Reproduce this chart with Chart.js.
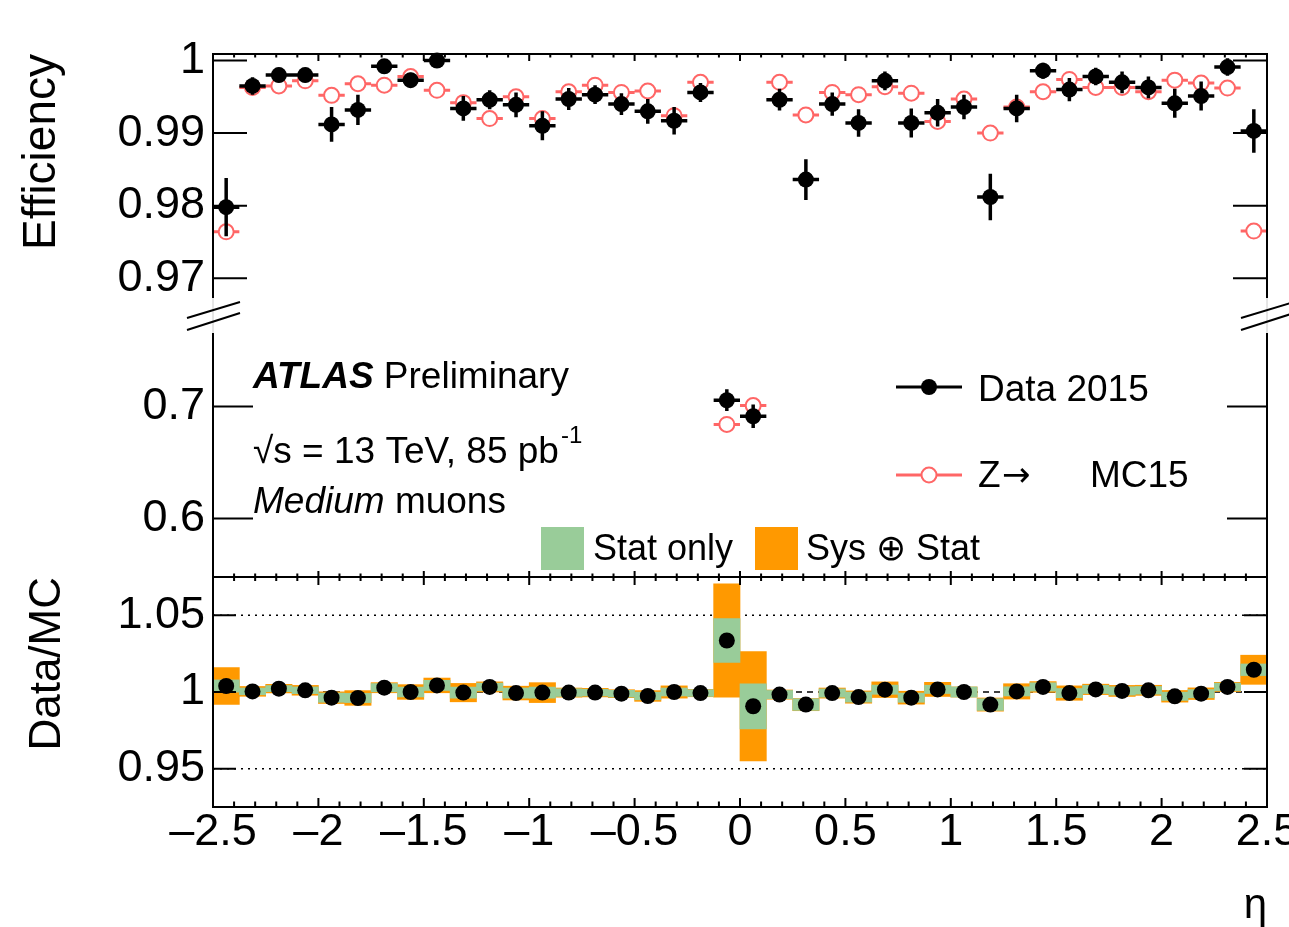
<!DOCTYPE html>
<html>
<head>
<meta charset="utf-8">
<script src="https://cdn.jsdelivr.net/npm/chart.js@4.4.0/dist/chart.umd.min.js"></script>
<style>
  body { margin: 0; background: #fff; }
  #wrap { position: relative; width: 1289px; height: 927px; overflow: hidden; background: #fff; }
  #wrap canvas { position: absolute; left: 0; }
</style>
</head>
<body>
<div id="wrap">
  <canvas id="mid-chart" width="1289" height="265" style="top:316px"></canvas>
  <canvas id="ratio-chart" width="1289" height="357" style="top:570px"></canvas>
  <canvas id="top-chart" width="1289" height="345" style="top:0px"></canvas>
</div>
<script>
// values (muon efficiency vs eta, 40 bins)
const etaBins = [-2.4375, -2.3125, -2.1875, -2.0625, -1.9375, -1.8125, -1.6875, -1.5625, -1.4375, -1.3125,
                 -1.1875, -1.0625, -0.9375, -0.8125, -0.6875, -0.5625, -0.4375, -0.3125, -0.1875, -0.0625,
                  0.0625,  0.1875,  0.3125,  0.4375,  0.5625,  0.6875,  0.8125,  0.9375,  1.0625,  1.1875,
                  1.3125,  1.4375,  1.5625,  1.6875,  1.8125,  1.9375,  2.0625,  2.1875,  2.3125,  2.4375];
const binHalfWidth = 0.0625;

const dataEff = [0.9798, 0.9965, 0.9980, 0.9980, 0.9912, 0.9932, 0.9992, 0.9973, 1.0000, 0.9934,
                 0.9946, 0.9939, 0.9910, 0.9947, 0.9953, 0.9940, 0.9930, 0.9917, 0.9956, 0.7056,
                 0.6913, 0.9946, 0.9836, 0.9940, 0.9914, 0.9972, 0.9914, 0.9928, 0.9936, 0.9812,
                 0.9934, 0.9986, 0.9960, 0.9978, 0.9970, 0.9963, 0.9941, 0.9951, 0.9991, 0.9903];
const dataErr = [0.0040, 0.0012, 0.0010, 0.0010, 0.0024, 0.0021, 0.0010, 0.0010, 0.0008, 0.0017,
                 0.0013, 0.0017, 0.0020, 0.0015, 0.0013, 0.0015, 0.0017, 0.0019, 0.0013, 0.0097,
                 0.0104, 0.0015, 0.0028, 0.0016, 0.0019, 0.0013, 0.0020, 0.0019, 0.0017, 0.0032,
                 0.0019, 0.0011, 0.0016, 0.0012, 0.0015, 0.0015, 0.0020, 0.0020, 0.0012, 0.0030];
const mcEff = [0.9764, 0.9963, 0.9965, 0.9972, 0.9952, 0.9968, 0.9966, 0.9978, 0.9959, 0.9942,
               0.9920, 0.9950, 0.9920, 0.9957, 0.9966, 0.9956, 0.9958, 0.9924, 0.9970, 0.6840,
               0.7009, 0.9970, 0.9925, 0.9956, 0.9953, 0.9964, 0.9955, 0.9916, 0.9947, 0.9900,
               0.9936, 0.9957, 0.9974, 0.9963, 0.9963, 0.9957, 0.9973, 0.9969, 0.9962, 0.9765];

const ratio = [1.0039, 1.0004, 1.0022, 1.0011, 0.9963, 0.9961, 1.0028, 1.0000, 1.0043, 0.9996,
               1.0033, 0.9993, 0.9996, 0.9996, 0.9996, 0.9989, 0.9974, 1.0000, 0.9993, 1.0336,
               0.9907, 0.9983, 0.9918, 0.9993, 0.9967, 1.0015, 0.9963, 1.0017, 1.0000, 0.9918,
               1.0004, 1.0033, 0.9993, 1.0017, 1.0007, 1.0011, 0.9972, 0.9989, 1.0033, 1.0145];
const ratioStat = [0.0040, 0.0022, 0.0020, 0.0022, 0.0030, 0.0030, 0.0027, 0.0032, 0.0033, 0.0036,
                   0.0025, 0.0033, 0.0036, 0.0025, 0.0022, 0.0022, 0.0025, 0.0026, 0.0022, 0.0143,
                   0.0147, 0.0027, 0.0038, 0.0027, 0.0033, 0.0030, 0.0030, 0.0027, 0.0033, 0.0038,
                   0.0030, 0.0027, 0.0030, 0.0027, 0.0027, 0.0025, 0.0027, 0.0027, 0.0025, 0.0038];
const ratioTotal = [0.0120, 0.0032, 0.0028, 0.0032, 0.0038, 0.0048, 0.0033, 0.0048, 0.0048, 0.0060,
                    0.0033, 0.0045, 0.0065, 0.0030, 0.0028, 0.0026, 0.0035, 0.0040, 0.0024, 0.0370,
                    0.0356, 0.0030, 0.0040, 0.0033, 0.0040, 0.0051, 0.0042, 0.0046, 0.0033, 0.0043,
                    0.0050, 0.0035, 0.0047, 0.0034, 0.0036, 0.0033, 0.0038, 0.0038, 0.0030, 0.0095];

const breakAt = 0.9; // points above go in the upper part of the broken axis
const effTicksHigh = [1, 0.99, 0.98, 0.97];
const effLabelsHigh = ['1', '0.99', '0.98', '0.97'];
const effTicksLow = [0.7, 0.6];
const effLabelsLow = ['0.7', '0.6'];
const ratioTicks = [1.05, 1, 0.95];
const ratioLabels = ['1.05', '1', '0.95'];
const etaTicks = [-2.5, -2, -1.5, -1, -0.5, 0, 0.5, 1, 1.5, 2, 2.5];
const etaLabels = ['\u20132.5', '\u20132', '\u20131.5', '\u20131', '\u20130.5', '0', '0.5', '1', '1.5', '2', '2.5'];

const FONT = '"Liberation Sans", Arial, Helvetica, sans-serif';
const MC_RED = '#ff6666';
const STAT_GREEN = '#99cc99';
const SYS_ORANGE = '#ff9900';

Chart.defaults.font.family = FONT;
Chart.defaults.color = '#000';

// ROOT-like frame: ticks point inwards, on all four sides
const frameTicks = {
  id: 'frameTicks',
  afterDatasetsDraw(chart, args, o) {
    const { ctx, chartArea: a, scales: { x, y } } = chart;
    ctx.save();
    ctx.strokeStyle = '#000';
    ctx.lineWidth = 2;
    ctx.beginPath();
    ctx.moveTo(a.left, a.top); ctx.lineTo(a.left, a.bottom);
    ctx.moveTo(a.right, a.top); ctx.lineTo(a.right, a.bottom);
    if (o.top) { ctx.moveTo(a.left - 1, a.top); ctx.lineTo(a.right + 1, a.top); }
    if (o.bottom) { ctx.moveTo(a.left - 1, a.bottom); ctx.lineTo(a.right + 1, a.bottom); }
    for (let k = -25; k <= 25; k++) {
      const px = x.getPixelForValue(k / 10);
      const major = k % 5 === 0;
      if (o.topTicks) {
        ctx.moveTo(px, a.top); ctx.lineTo(px, a.top + (major ? o.topTicks[0] : o.topTicks[1]));
      }
      if (o.bottomTicks) {
        ctx.moveTo(px, a.bottom); ctx.lineTo(px, a.bottom - (major ? o.bottomTicks[0] : o.bottomTicks[1]));
      }
    }
    o.yTicks.forEach(v => {
      const py = y.getPixelForValue(v);
      ctx.moveTo(a.left, py); ctx.lineTo(a.left + o.yLen, py);
      ctx.moveTo(a.right, py); ctx.lineTo(a.right - o.yLen, py);
    });
    ctx.stroke();
    ctx.restore();
  }
};

// x error = bin width, y error from the point's "e" value; drawn under the markers
const errorBars = {
  id: 'errorBars',
  beforeDatasetDraw(chart, args) {
    const ds = chart.data.datasets[args.index];
    if (!ds.errColor) return;
    const { ctx, scales: { x, y } } = chart;
    ctx.save();
    ctx.strokeStyle = ds.errColor;
    ctx.lineWidth = ds.errWidth;
    ctx.beginPath();
    ds.data.forEach(p => {
      const px = x.getPixelForValue(p.x);
      const py = y.getPixelForValue(p.y);
      ctx.moveTo(x.getPixelForValue(p.x - binHalfWidth), py);
      ctx.lineTo(x.getPixelForValue(p.x + binHalfWidth), py);
      if (p.e) {
        ctx.moveTo(px, y.getPixelForValue(p.y + p.e));
        ctx.lineTo(px, y.getPixelForValue(p.y - p.e));
      }
    });
    ctx.stroke();
    ctx.restore();
  }
};

// the // marks of the broken y axis
const axisBreak = {
  id: 'axisBreak',
  afterDraw(chart) {
    const { ctx, chartArea: a } = chart;
    const y0 = a.bottom;
    [a.left, a.right].forEach(x0 => {
      ctx.save();
      ctx.fillStyle = '#fff';
      ctx.fillRect(x0 - 3, y0 - 18, 6, 35);
      ctx.strokeStyle = '#cccccc';
      ctx.lineWidth = 1;
      ctx.beginPath(); ctx.moveTo(x0, y0 - 18); ctx.lineTo(x0, y0 + 17); ctx.stroke();
      ctx.strokeStyle = '#000';
      ctx.lineWidth = 2;
      ctx.beginPath();
      ctx.moveTo(x0 - 26, y0 + 2); ctx.lineTo(x0 + 27, y0 - 14);
      ctx.moveTo(x0 - 26, y0 + 14); ctx.lineTo(x0 + 27, y0 - 3);
      ctx.stroke();
      ctx.restore();
    });
  }
};

// ATLAS label, info text and the two legends
const panelText = {
  id: 'panelText',
  afterDraw(chart) {
    const { ctx, chartArea: a } = chart;
    const L = a.left, T = a.top;
    ctx.save();
    ctx.fillStyle = '#000';
    ctx.textBaseline = 'alphabetic';
    ctx.textAlign = 'left';

    ctx.font = `italic bold 37px ${FONT}`;
    ctx.fillText('ATLAS', L + 40, T + 72);
    let w = ctx.measureText('ATLAS ').width;
    ctx.font = `37px ${FONT}`;
    ctx.fillText('Preliminary', L + 40 + w, T + 72);

    const lumi = '\u221As = 13 TeV, 85 pb';
    ctx.fillText(lumi, L + 40, T + 147);
    w = ctx.measureText(lumi).width;
    ctx.font = `24px ${FONT}`;
    ctx.fillText('-1', L + 42 + w, T + 127);

    ctx.font = `italic 37px ${FONT}`;
    ctx.fillText('Medium', L + 40, T + 197);
    w = ctx.measureText('Medium').width;
    ctx.font = `37px ${FONT}`;
    ctx.fillText(' muons', L + 40 + w, T + 197);

    // marker legend
    ctx.lineWidth = 3;
    ctx.strokeStyle = '#000';
    ctx.beginPath(); ctx.moveTo(L + 683, T + 71); ctx.lineTo(L + 749, T + 71); ctx.stroke();
    ctx.beginPath(); ctx.arc(L + 716, T + 71, 8, 0, Math.PI * 2); ctx.fill();
    ctx.fillText('Data 2015', L + 765, T + 85);

    ctx.strokeStyle = MC_RED;
    ctx.beginPath(); ctx.moveTo(L + 683, T + 159); ctx.lineTo(L + 749, T + 159); ctx.stroke();
    ctx.fillStyle = '#fff';
    ctx.lineWidth = 2;
    ctx.beginPath(); ctx.arc(L + 716, T + 159, 7.5, 0, Math.PI * 2); ctx.fill(); ctx.stroke();
    ctx.fillStyle = '#000';
    ctx.fillText('Z', L + 765, T + 171);
    ctx.font = `34px "DejaVu Sans", ${FONT}`;
    ctx.fillText('\u2192', L + 765 + 24, T + 170);
    ctx.font = `37px ${FONT}`;
    ctx.fillText('MC15', L + 877, T + 171);

    // uncertainty band legend
    ctx.font = `36px ${FONT}`;
    ctx.fillStyle = STAT_GREEN;
    ctx.fillRect(L + 328, T + 211, 43, 43);
    ctx.fillStyle = SYS_ORANGE;
    ctx.fillRect(L + 542, T + 211, 43, 43);
    ctx.fillStyle = '#000';
    ctx.fillText('Stat only', L + 380, T + 244);
    ctx.fillText('Sys \u2295 Stat', L + 593, T + 244);
    ctx.restore();
  }
};

function etaAxis(show) {
  return {
    type: 'linear', min: -2.5, max: 2.5, offset: false, display: show,
    afterBuildTicks: s => { s.ticks = etaTicks.map(v => ({ value: v })); },
    afterFit: s => {
      s.height = show ? 120 : 0;
      s.paddingLeft = 0; s.paddingRight = 0;
    },
    grid: { display: false, drawTicks: false },
    border: { display: false },
    ticks: { autoSkip: false, maxRotation: 0, padding: 3, font: { size: 45, lineHeight: 1 },
             callback: (v, i) => etaLabels[i] },
    title: { display: show, text: '\u03b7', align: 'end', font: { size: 42, lineHeight: 1 },
             padding: { top: 0, bottom: 0 } }
  };
}

function valueAxis(min, max, ticks, labels, title, titleSize, titlePad) {
  return {
    type: 'linear', min: min, max: max,
    afterBuildTicks: s => { s.ticks = ticks.map(v => ({ value: v })); },
    afterFit: s => {
      s.width = 213;
      s.paddingTop = 0; s.paddingBottom = 0;
    },
    grid: { display: false, drawTicks: false },
    border: { display: false },
    ticks: { padding: 8, font: { size: 45, lineHeight: 1 }, callback: (v, i) => labels[i] },
    title: { display: !!title, text: title, align: 'end', font: { size: titleSize, lineHeight: 1 },
             padding: { top: titlePad, bottom: 0 } }
  };
}

function effPoints(values, errors, keep) {
  return etaBins.map((x, i) => ({ x: x, y: values[i], e: errors ? errors[i] : 0 })).filter(p => keep(p.y));
}

function effDatasets(keep) {
  return [
    { label: 'Data 2015', data: effPoints(dataEff, dataErr, keep), order: 1,
      pointRadius: 8, pointBackgroundColor: '#000', pointBorderWidth: 0,
      errColor: '#000', errWidth: 3.5, clip: false },
    { label: 'MC15', data: effPoints(mcEff, null, keep), order: 2,
      pointRadius: 7.5, pointBackgroundColor: '#fff', pointBorderColor: MC_RED, pointBorderWidth: 2,
      errColor: MC_RED, errWidth: 3, clip: false }
  ];
}

const baseOptions = {
  responsive: false,
  animation: false,
  devicePixelRatio: 1,
  events: []
};

// upper part of the broken efficiency axis
new Chart(document.getElementById('top-chart'), {
  type: 'scatter',
  data: { datasets: effDatasets(v => v > breakAt) },
  options: {
    ...baseOptions,
    layout: { autoPadding: false, padding: { left: 0, right: 22, top: 54, bottom: 29 } },
    plugins: {
      legend: { display: false }, tooltip: { enabled: false },
      frameTicks: { top: true, bottom: false, topTicks: [7, 3.5], bottomTicks: null, yTicks: effTicksHigh, yLen: 34 }
    },
    scales: {
      x: etaAxis(false),
      y: valueAxis(0.9648, 1.0009, effTicksHigh, effLabelsHigh, 'Efficiency', 46, 19)
    }
  },
  plugins: [errorBars, frameTicks, axisBreak]
});

// lower part of the broken efficiency axis, with the labels
new Chart(document.getElementById('mid-chart'), {
  type: 'scatter',
  data: { datasets: effDatasets(v => v < breakAt) },
  options: {
    ...baseOptions,
    layout: { autoPadding: false, padding: { left: 0, right: 22, top: 0, bottom: 4 } },
    plugins: {
      legend: { display: false }, tooltip: { enabled: false },
      frameTicks: { top: false, bottom: true, topTicks: null, bottomTicks: [6, 3.5], yTicks: effTicksLow, yLen: 40 }
    },
    scales: {
      x: etaAxis(false),
      y: valueAxis(0.5478, 0.7808, effTicksLow, effLabelsLow, '', 46, 0)
    }
  },
  plugins: [errorBars, frameTicks, panelText]
});

// Data/MC ratio with stat and stat+sys boxes
new Chart(document.getElementById('ratio-chart'), {
  type: 'bar',
  data: {
    datasets: [
      { type: 'line', data: [{ x: -2.5, y: 1 }, { x: 2.5, y: 1 }], borderColor: '#000', borderWidth: 1.5,
        borderDash: [6, 5], pointRadius: 0, order: 6 },
      { type: 'line', data: [{ x: -2.5, y: 1.05 }, { x: 2.5, y: 1.05 }], borderColor: '#000', borderWidth: 1.5,
        borderDash: [2, 5], pointRadius: 0, order: 7 },
      { type: 'line', data: [{ x: -2.5, y: 0.95 }, { x: 2.5, y: 0.95 }], borderColor: '#000', borderWidth: 1.5,
        borderDash: [2, 5], pointRadius: 0, order: 8 },
      { type: 'bar', label: 'Sys \u2295 Stat', order: 4, grouped: false, barPercentage: 1, categoryPercentage: 1,
        backgroundColor: SYS_ORANGE, borderWidth: 0,
        data: etaBins.map((x, i) => ({ x: x, y: [ratio[i] - ratioTotal[i], ratio[i] + ratioTotal[i]] })) },
      { type: 'bar', label: 'Stat only', order: 3, grouped: false, barPercentage: 1, categoryPercentage: 1,
        backgroundColor: STAT_GREEN, borderWidth: 0,
        data: etaBins.map((x, i) => ({ x: x, y: [ratio[i] - ratioStat[i], ratio[i] + ratioStat[i]] })) },
      { type: 'scatter', label: 'Data/MC', order: 1, pointRadius: 8,
        pointBackgroundColor: '#000', pointBorderWidth: 0,
        data: etaBins.map((x, i) => ({ x: x, y: ratio[i] })) }
    ]
  },
  options: {
    ...baseOptions,
    layout: { autoPadding: false, padding: { left: 0, right: 22, top: 7, bottom: 0 } },
    plugins: {
      legend: { display: false }, tooltip: { enabled: false },
      frameTicks: { top: true, bottom: true, topTicks: [8, 4], bottomTicks: [9, 5.5], yTicks: ratioTicks, yLen: 23 }
    },
    scales: {
      x: etaAxis(true),
      y: valueAxis(0.925, 1.075, ratioTicks, ratioLabels, 'Data/MC', 44, 26)
    }
  },
  plugins: [frameTicks]
});
</script>
</body>
</html>
